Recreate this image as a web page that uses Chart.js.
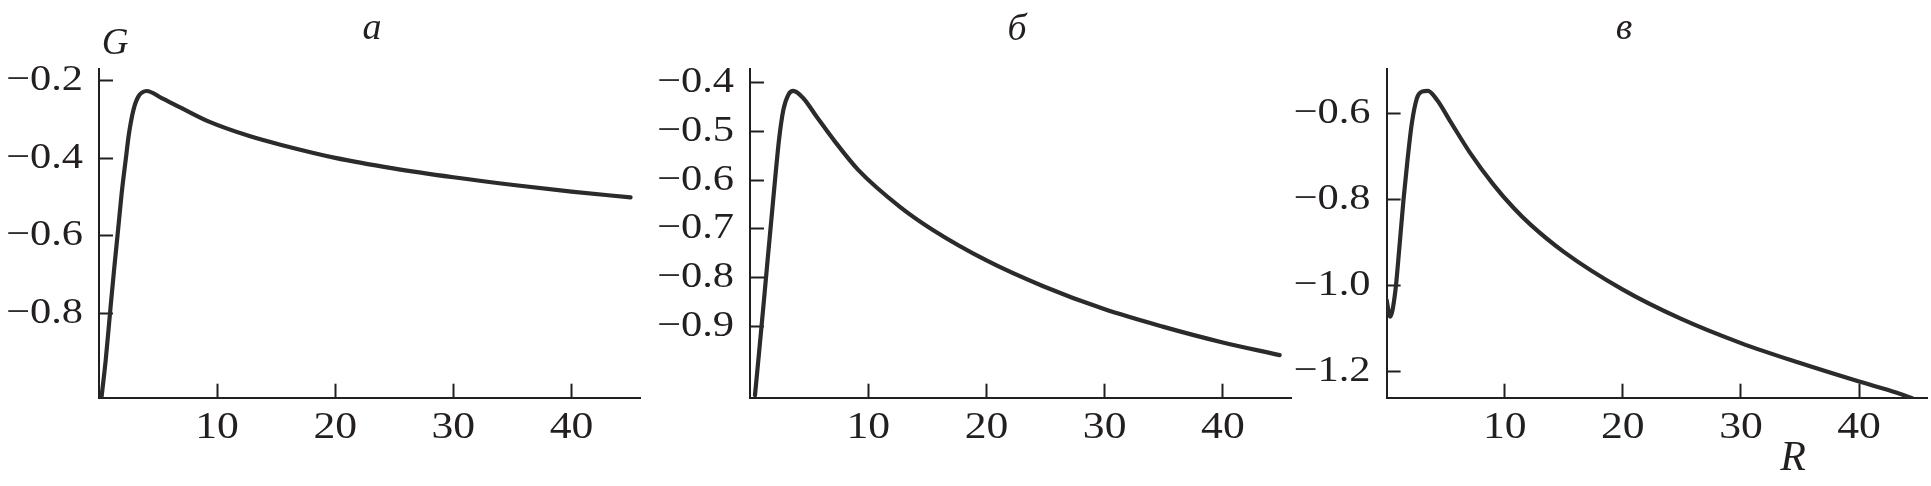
<!DOCTYPE html>
<html><head><meta charset="utf-8">
<script src="https://cdn.jsdelivr.net/npm/chart.js@4.4.1/dist/chart.umd.min.js"></script>
<style>
html,body{margin:0;padding:0;background:#fff;width:1931px;height:486px;overflow:hidden;}
canvas{position:absolute;top:0;}
.t{position:absolute;font-family:"Liberation Serif","Times New Roman",serif;font-style:italic;color:#231f20;line-height:1;white-space:nowrap;transform:translateX(-50%);}
</style></head><body>
<canvas id="ca" width="660" height="486" style="left:0px"></canvas>
<canvas id="cb" width="660" height="486" style="left:640px"></canvas>
<canvas id="cc" width="651" height="486" style="left:1280px"></canvas>
<div class="t" style="left:372px;top:6.5px;font-size:38px">а</div>
<div class="t" style="left:1017px;top:7.5px;font-size:38px">б</div>
<div class="t" style="left:1624px;top:6.5px;font-size:38px">в</div>
<div class="t" style="left:115px;top:22.5px;font-size:37px">G</div>
<div class="t" style="left:1793px;top:434.8px;font-size:42px">R</div>
<script>
// Panel а
const rA = [0.2, 0.57, 0.93, 1.30, 1.64, 1.92, 2.26, 2.54, 2.91, 3.33, 4.04, 5.31, 7.0, 9.26, 12.8, 15.6, 20, 24.9, 30, 35.1, 40, 45];
const gA = [-1.02, -0.92, -0.80, -0.68, -0.577, -0.49, -0.404, -0.336, -0.276, -0.241, -0.2265, -0.245, -0.271, -0.305, -0.3435, -0.367, -0.399, -0.426, -0.449, -0.469, -0.486, -0.501];
// Panel б
const rB = [0.42, 0.76, 1.13, 1.49, 1.83, 2.17, 2.45, 2.82, 3.24, 3.66, 4.51, 5.64, 7.19, 9.15, 12.68, 15.5, 20, 24.8, 29.95, 34.9, 39.9, 44.8];
const gB = [-1.042, -0.956, -0.860, -0.764, -0.675, -0.586, -0.518, -0.456, -0.425, -0.417, -0.432, -0.470, -0.521, -0.579, -0.655, -0.703, -0.765, -0.818, -0.865, -0.901, -0.933, -0.9595];
// Panel в
const rC = [0, 0.3, 0.72, 1.09, 1.43, 1.77, 2.14, 2.57, 2.99, 3.5, 4.26, 5.39, 7.08, 9.06, 10.76, 12.16, 15.0, 20, 24.85, 30, 35, 40, 43.2, 44.5];
const gC = [-1.033, -1.072, -1.017, -0.908, -0.80, -0.707, -0.621, -0.563, -0.548, -0.546, -0.567, -0.617, -0.691, -0.765, -0.819, -0.857, -0.921, -1.009, -1.076, -1.1335, -1.180, -1.223, -1.249, -1.262];

const xTicks = [10, 20, 30, 40];
const yTicksA = [-0.8, -0.6, -0.4, -0.2];
const yTicksB = [-0.9, -0.8, -0.7, -0.6, -0.5, -0.4];
const yTicksC = [-1.2, -1.0, -0.8, -0.6];

const AX = '#231f20', TXT = '#231f20', LINE = '#2b2b2b';
const FONT = '"Liberation Serif", "Times New Roman", serif';
const STRETCH = 1.18;
const fmt = v => (v < 0 ? '\u2212' : '') + Math.abs(v).toFixed(1);

// widen tick-label glyphs horizontally (the printed figure uses a wide Times face)
const stretchText = {
  id: 'stretchText',
  beforeDraw(chart) {
    const ctx = chart.ctx;
    if (ctx.__stretched) return;
    const orig = ctx.fillText;
    ctx.fillText = function (text, x, y) {
      this.save();
      this.translate(x, y);
      this.scale(STRETCH, 1);
      orig.call(this, text, 0, 0);
      this.restore();
    };
    ctx.__stretched = true;
  }
};

function makeChart(id, R, G, yTicks, yMin, yMax, yWidth, padRight) {
  new Chart(document.getElementById(id), {
    type: 'line',
    data: { datasets: [{ data: R.map((r, i) => ({ x: r, y: G[i] })), borderColor: LINE, borderWidth: 4.2,
      pointRadius: 0, cubicInterpolationMode: 'monotone', fill: false, borderCapStyle: 'round', borderJoinStyle: 'round' }] },
    options: {
      responsive: false, animation: false, devicePixelRatio: 1,
      layout: { padding: { top: 69.3, right: padRight, left: 0, bottom: 0 } },
      plugins: { legend: { display: false }, tooltip: { enabled: false }, title: { display: false } },
      scales: {
        x: { type: 'linear', min: 0, max: 45.8, position: 'bottom',
          afterBuildTicks: s => { s.ticks = xTicks.map(v => ({ value: v })); },
          afterFit: s => { s.height = 88.3; },
          grid: { drawOnChartArea: false, drawTicks: true, tickLength: -14, tickWidth: 2, tickColor: AX },
          border: { display: true, color: AX, width: 2 },
          ticks: { padding: 22.5, color: TXT, font: { family: FONT, size: 37 }, maxRotation: 0, autoSkip: false,
            callback: v => String(v) } },
        y: { type: 'linear', min: yMin, max: yMax, position: 'left',
          afterBuildTicks: s => { s.ticks = yTicks.map(v => ({ value: v })); },
          afterFit: s => { s.width = yWidth; },
          grid: { drawOnChartArea: false, drawTicks: true, tickLength: -14, tickWidth: 2, tickColor: AX },
          border: { display: true, color: AX, width: 2 },
          ticks: { padding: 30, color: TXT, font: { family: FONT, size: 36 }, autoSkip: false,
            callback: v => fmt(v) } }
      }
    },
    plugins: [stretchText]
  });
}
makeChart('ca', rA, gA, yTicksA, -1.0175, -0.1706, 99, 20);
makeChart('cb', rB, gB, yTicksB, -1.047, -0.3725, 110, 8.5);
makeChart('cc', rC, gC, yTicksC, -1.2605, -0.496, 106.6, 3.4);
</script>
</body></html>
